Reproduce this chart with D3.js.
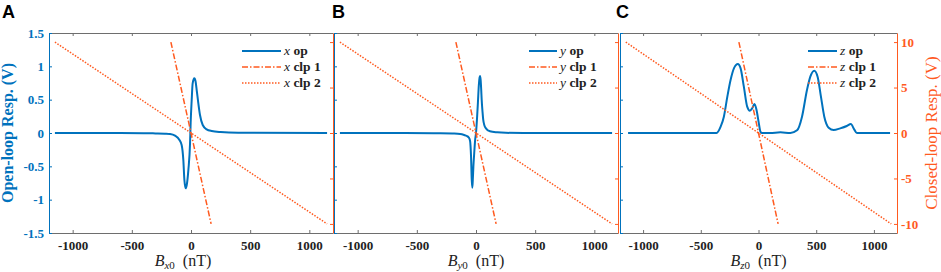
<!DOCTYPE html>
<html>
<head>
<meta charset="utf-8">
<script src="https://cdn.jsdelivr.net/npm/d3@7"></script>
<style>
body { margin: 0; background: #fff; }
</style>
</head>
<body>
<svg id="chart" width="941" height="272" font-family="Liberation Serif, serif"></svg>
<script>
// ---- data ----
const xTicks = [-1000, -500, 0, 500, 1000];
const leftTicks = [-1.5, -1, -0.5, 0, 0.5, 1, 1.5];
const rightTicks = [-10, -5, 0, 5, 10];

// open-loop responses (V) vs field (nT)
const opXB = [-1150, -600, -400, -300, -220, -177, -135, -99, -79, -65, -56, -45, -36, -22, -8, -3, 6, 14, 28, 38, 48, 62, 76, 99, 132, 175, 250, 400, 1150];
const opXV = [0, 0, -0.003, -0.006, -0.01, -0.015, -0.04, -0.1, -0.18, -0.4, -0.7, -0.83, -0.78, -0.55, -0.15, 0.15, 0.5, 0.745, 0.82, 0.78, 0.645, 0.445, 0.27, 0.12, 0.055, 0.03, 0.015, 0.005, 0];

const opYB = [-1150, -600, -300, -200, -134, -100, -78, -60, -50, -42, -36, -31, -27, -22, -15, -7, 0, 8, 16, 24, 30, 34, 39, 44, 48, 55, 61, 70, 84, 118, 180, 252, 400, 1150];
const opYV = [0, 0, -0.003, -0.008, -0.015, -0.03, -0.045, -0.07, -0.12, -0.35, -0.7, -0.82, -0.7, -0.5, -0.3, -0.1, 0, 0.2, 0.45, 0.72, 0.83, 0.855, 0.8, 0.65, 0.5, 0.32, 0.2, 0.12, 0.07, 0.025, 0.01, 0.003, 0, 0];

const opZB = [-1130, -600, -400, -363, -328, -300, -270, -242, -213, -179, -155, -127, -98, -75, -55, -35, -17, 3, 17, 30, 100, 190, 276, 334, 377, 420, 449, 483, 512, 541, 570, 608, 651, 708, 765, 800, 829, 852, 1000, 1140];
const opZV = [0, 0, 0, 0, 0.095, 0.245, 0.545, 0.795, 0.97, 1.035, 0.97, 0.695, 0.395, 0.335, 0.37, 0.435, 0.345, 0.145, 0.02, 0, 0, 0.01, 0, 0.04, 0.245, 0.645, 0.845, 0.935, 0.845, 0.545, 0.245, 0.08, 0.045, 0.07, 0.105, 0.135, 0.055, 0, 0, 0];

// closed-loop responses (V), same for all three axes
const clp1B = [-170, 0, 170];
const clp1V = [10, 0, -10];
const clp2B = [-1150, 0, 1150];
const clp2V = [10, 0, -10];

const legendNames = ["op", "clp 1", "clp 2"];

// ---- layout ----
const blue = "#0072bd", orange = "#ff5a1f", frame = "#6e6e6e";
const yTop = 33, yBottom = 233;
const xDomain = [-1200, 1200];

const panels = [
    {letter: "A", v: "x", left: 49, right: 333, b: opXB, val: opXV, leftLab: true, rightLab: false, leg: [242, 281], letterX: 2, labShift: -8},
    {letter: "B", v: "y", left: 334, right: 618, b: opYB, val: opYV, leftLab: false, rightLab: false, leg: [529, 557], letterX: 332, labShift: 0},
    {letter: "C", v: "z", left: 620, right: 897, b: opZB, val: opZV, leftLab: false, rightLab: true, leg: [808, 837], letterX: 616, labShift: 0}
];

const svg = d3.select("#chart");

function styleTicks(g, color) {
    g.attr("font-family", null).attr("font-size", null);
    g.selectAll("text")
        .attr("font-weight", "bold")
        .attr("font-size", 13)
        .attr("fill", color);
}

function drawPanel(p) {
    const x = d3.scaleLinear().domain(xDomain).range([p.left, p.right]);
    const yL = d3.scaleLinear().domain([-1.5, 1.5]).range([yBottom, yTop]);
    const yR = d3.scaleLinear().domain([-11, 11]).range([yBottom, yTop]);
    const g = svg.append("g");

    // x axes (bottom with labels, top ticks only)
    const xb = g.append("g")
        .attr("transform", `translate(0,${yBottom})`)
        .call(d3.axisBottom(x).tickValues(xTicks).tickSize(-3).tickSizeOuter(0).tickPadding(8)
            .tickFormat(d => String(d)));
    xb.select(".domain").attr("stroke", frame);
    xb.selectAll(".tick line").attr("stroke", frame);
    styleTicks(xb, "#222");

    const xt = g.append("g")
        .attr("transform", `translate(0,${yTop})`)
        .call(d3.axisTop(x).tickValues(xTicks).tickSize(-3).tickSizeOuter(0).tickFormat(""));
    xt.select(".domain").attr("stroke", frame);
    xt.selectAll(".tick line").attr("stroke", frame);

    // left (blue) axis
    const yl = g.append("g")
        .attr("transform", `translate(${p.left},0)`)
        .call(d3.axisLeft(yL).tickValues(leftTicks).tickSize(-3).tickSizeOuter(0).tickPadding(5)
            .tickFormat(p.leftLab ? (d => String(d)) : ""));
    yl.select(".domain").attr("stroke", blue);
    yl.selectAll(".tick line").attr("stroke", blue);
    styleTicks(yl, blue);

    // right (orange) axis
    const yr = g.append("g")
        .attr("transform", `translate(${p.right},0)`)
        .call(d3.axisRight(yR).tickValues(rightTicks).tickSize(-3).tickSizeOuter(0).tickPadding(4)
            .tickFormat(p.rightLab ? (d => String(d)) : ""));
    yr.select(".domain").attr("stroke", orange);
    yr.selectAll(".tick line").attr("stroke", orange);
    styleTicks(yr, orange);

    // curves
    const opLine = d3.line().x(d => x(d[0])).y(d => yL(d[1])).curve(d3.curveMonotoneX);
    const clLine = d3.line().x(d => x(d[0])).y(d => yR(d[1]));

    g.append("path")
        .datum(d3.zip(p.b, p.val))
        .attr("d", opLine)
        .attr("fill", "none").attr("stroke", blue).attr("stroke-width", 2);

    g.append("path")
        .datum(d3.zip(clp1B, clp1V))
        .attr("d", clLine)
        .attr("fill", "none").attr("stroke", orange).attr("stroke-width", 1.5)
        .attr("stroke-dasharray", "6,2,1.5,2");

    g.append("path")
        .datum(d3.zip(clp2B, clp2V))
        .attr("d", clLine)
        .attr("fill", "none").attr("stroke", orange).attr("stroke-width", 1.5)
        .attr("stroke-dasharray", "1.5,1.5");

    // legend
    const dashes = [null, "6,2,1.5,2", "1.5,1.5"];
    const cols = [blue, orange, orange];
    legendNames.forEach((name, i) => {
        const ly = 51 + i * 16;
        g.append("line")
            .attr("x1", p.leg[0]).attr("x2", p.leg[1])
            .attr("y1", ly).attr("y2", ly)
            .attr("stroke", cols[i])
            .attr("stroke-width", i === 0 ? 2 : 1.5)
            .attr("stroke-dasharray", dashes[i]);
        const t = g.append("text")
            .attr("x", p.leg[1] + 3)
            .attr("y", ly + 4)
            .attr("font-size", 13.5)
            .attr("fill", "#222");
        t.append("tspan").attr("font-style", "italic").text(p.v);
        t.append("tspan").attr("font-weight", "bold").text("\u00a0" + name.replace(/ /g, "\u00a0"));
    });

    // x label
    const xl = g.append("text")
        .attr("x", (p.left + p.right) / 2 + p.labShift)
        .attr("y", 266)
        .attr("text-anchor", "middle")
        .attr("font-size", 16)
        .attr("fill", "#222");
    xl.append("tspan").attr("font-style", "italic").text("B");
    xl.append("tspan").attr("font-style", "italic").attr("font-size", 11).attr("dy", 3).text(p.v);
    xl.append("tspan").attr("font-size", 11).text("0");
    xl.append("tspan").attr("dy", -3).text("\u00a0\u00a0(nT)");

    // panel letter
    svg.append("text")
        .attr("x", p.letterX)
        .attr("y", 18)
        .attr("font-family", "Liberation Sans, Arial, sans-serif")
        .attr("font-weight", "bold")
        .attr("font-size", 18)
        .attr("fill", "#000")
        .text(p.letter);
}

panels.forEach(drawPanel);

// axis titles
svg.append("text")
    .attr("transform", `translate(13,${(yTop + yBottom) / 2}) rotate(-90)`)
    .attr("text-anchor", "middle")
    .attr("font-weight", "bold")
    .attr("font-size", 16)
    .attr("fill", blue)
    .text("Open-loop Resp. (V)");

svg.append("text")
    .attr("transform", `translate(937,${(yTop + yBottom) / 2}) rotate(-90)`)
    .attr("text-anchor", "middle")
    .attr("font-size", 17)
    .attr("fill", orange)
    .text("Closed-loop Resp. (V)");
</script>
</body>
</html>
